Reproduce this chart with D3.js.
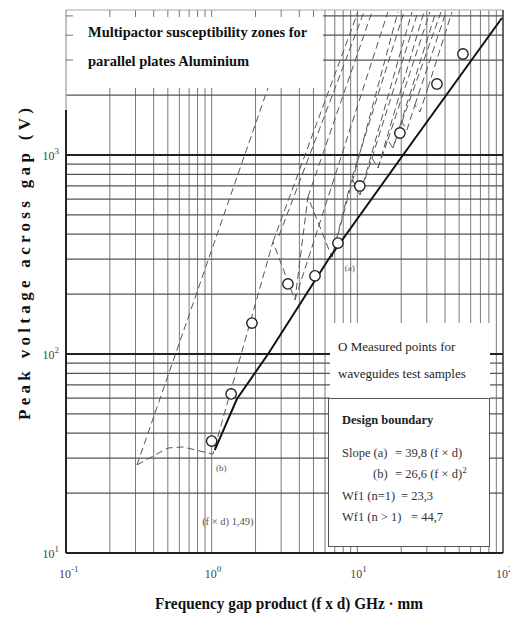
<!DOCTYPE html>
<html>
<head>
<meta charset="utf-8">
<script src="https://cdn.jsdelivr.net/npm/d3@7"></script>
<style>
body { margin: 0; background: #fff; }
</style>
</head>
<body>
<script>
// measured points, f x d (GHz mm) and peak voltage (V)
let measured_fd = [1.0, 1.36, 1.89, 3.34, 5.12, 7.36, 10.4, 19.6, 35.2, 53.1]
let measured_v = [36.5, 63, 143, 225, 247, 361, 699, 1290, 2275, 3217]

// design boundary, solid line
let boundary_fd = [1.05, 1.49, 2.44, 6.49, 20.6, 98.3]
let boundary_v = [32.9, 59.4, 100, 307, 1000, 4880]

// lower zig-zag edge of the susceptibility zones
let zigzag_fd = [0.307, 0.501, 0.635, 1.02, 2.634, 3.73, 4.58, 6.69, 9.18, 10.42,
    12.6, 13.85, 16.2, 17.55, 20.24, 21.9, 24.85, 26.9, 30.5]
let zigzag_v = [27.7, 33.7, 34.1, 31.4, 366, 187, 615, 307, 766, 630,
    966, 860, 1190, 1084, 1465, 1335, 1784, 1644, 2171]

// zone edges running up the chart, start and end of each
let edge_fd0 = [0.307, 2.634, 2.896, 4.58, 3.73, 6.69, 9.18, 10.42, 12.6, 13.85, 16.2, 17.55, 20.24, 24.85, 30.5]
let edge_v0 = [27.7, 366, 392, 615, 187, 307, 766, 630, 966, 860, 1190, 1084, 1465, 1784, 2171]
let edge_fd1 = [2.435, 10.09, 11.1, 12.6, 16.2, 19.0, 20.9, 23.7, 26.05, 28.65, 31.5, 34.6, 37.5, 40.6, 44.6]
let edge_v1 = [2171, 5232, 5232, 5232, 5232, 5232, 5232, 5232, 5232, 5232, 5232, 5232, 5232, 5232, 5232]

let x_ticks = [0.1, 1, 10, 100]
let x_exp = ["-1", "0", "1", "2"]
let y_ticks = [10, 100, 1000]
let y_exp = ["1", "2", "3"]

let pLeft = 66, pRight = 503, pTop = 10, pBottom = 553
let serif = "'Liberation Serif', 'DejaVu Serif', serif"

let x = d3.scaleLog().domain([0.1, 100]).range([pLeft, pRight])
let y = d3.scaleLog().domain([10, 5354]).range([pBottom, pTop])

let svg = d3.select("body").append("svg")
    .attr("width", 510).attr("height", 617)
    .style("font-family", serif)

// grid
svg.append("g").selectAll("line")
    .data(x.ticks().filter(d => d > 0.1 && d < 100))
    .enter().append("line")
    .attr("x1", d => x(d)).attr("x2", d => x(d))
    .attr("y1", pTop).attr("y2", pBottom)
    .attr("stroke", "#7a7a7a").attr("stroke-width", 1)

svg.append("g").selectAll("line")
    .data(y.ticks().filter(d => d > 10))
    .enter().append("line")
    .attr("x1", pLeft).attr("x2", pRight)
    .attr("y1", d => y(d)).attr("y2", d => y(d))
    .attr("stroke", d => y_ticks.includes(d) ? "#222" : "#555")
    .attr("stroke-width", d => y_ticks.includes(d) ? 1.8 : 1.3)

// title box hides the grid, small ticks stay on the edges
svg.append("rect").attr("x", pLeft + 1).attr("y", pTop + 1)
    .attr("width", 322 - pLeft).attr("height", 77).attr("fill", "#fff")
svg.append("g").selectAll("line")
    .data(x.ticks().filter(d => d > 0.1 && x(d) < 322))
    .enter().append("line")
    .attr("x1", d => x(d)).attr("x2", d => x(d))
    .attr("y1", pTop).attr("y2", pTop + 7)
    .attr("stroke", "#777")
svg.append("g").selectAll("line")
    .data(y.ticks().filter(d => y(d) < 86))
    .enter().append("line")
    .attr("x1", pLeft).attr("x2", pLeft + 7)
    .attr("y1", d => y(d)).attr("y2", d => y(d))
    .attr("stroke", "#777")

svg.append("text").attr("x", 88).attr("y", 37)
    .attr("font-size", 14.5).attr("font-weight", "bold").attr("fill", "#111")
    .text("Multipactor susceptibility zones for")
svg.append("text").attr("x", 88).attr("y", 66)
    .attr("font-size", 14.5).attr("font-weight", "bold").attr("fill", "#111")
    .text("parallel plates Aluminium")

// frame
svg.append("line").attr("x1", pLeft).attr("x2", pRight).attr("y1", pTop).attr("y2", pTop)
    .attr("stroke", "#aaa").attr("stroke-width", 1.2)
svg.append("line").attr("x1", pRight).attr("x2", pRight).attr("y1", pTop).attr("y2", pBottom)
    .attr("stroke", "#333").attr("stroke-width", 1.5)
svg.append("line").attr("x1", pLeft).attr("x2", pLeft).attr("y1", pTop).attr("y2", 110)
    .attr("stroke", "#999").attr("stroke-width", 1.2)
svg.append("line").attr("x1", pLeft).attr("x2", pLeft).attr("y1", 110).attr("y2", pBottom)
    .attr("stroke", "#222").attr("stroke-width", 2)
svg.append("line").attr("x1", pLeft).attr("x2", pRight).attr("y1", pBottom).attr("y2", pBottom)
    .attr("stroke", "#222").attr("stroke-width", 2)

// zones, dashed
let line = d3.line().x(d => x(d[0])).y(d => y(d[1]))
svg.append("path")
    .attr("d", line(zigzag_fd.map((d, i) => [d, zigzag_v[i]])))
    .attr("fill", "none").attr("stroke", "#555").attr("stroke-width", 1)
    .attr("stroke-dasharray", "7,4")
svg.append("g").selectAll("path")
    .data(edge_fd0.map((d, i) => [[d, edge_v0[i]], [edge_fd1[i], edge_v1[i]]]))
    .enter().append("path")
    .attr("d", d => line(d))
    .attr("fill", "none").attr("stroke", "#555").attr("stroke-width", 1)
    .attr("stroke-dasharray", "7,4")

// design boundary
svg.append("path")
    .attr("d", line(boundary_fd.map((d, i) => [d, boundary_v[i]])))
    .attr("fill", "none").attr("stroke", "#111").attr("stroke-width", 2)

// measured points
svg.append("g").selectAll("circle")
    .data(measured_fd.map((d, i) => [d, measured_v[i]]))
    .enter().append("circle")
    .attr("cx", d => x(d[0])).attr("cy", d => y(d[1])).attr("r", 5.2)
    .attr("fill", "#fff").attr("stroke", "#222").attr("stroke-width", 1.4)

// small labels on the plot
svg.append("text").attr("x", x(8.2)).attr("y", y(261))
    .attr("font-size", 9).attr("fill", "#555").text("(a)")
svg.append("text").attr("x", x(1.07)).attr("y", y(25.8))
    .attr("font-size", 9).attr("fill", "#555").text("(b)")
svg.append("text").attr("x", x(0.86)).attr("y", y(13.8))
    .attr("font-size", 10.5).attr("fill", "#555").text("(f × d) 1,49)")

// legend
svg.append("rect").attr("x", 330).attr("y", 323).attr("width", 160).attr("height", 75)
    .attr("fill", "#fff")
svg.append("text").attr("x", 338).attr("y", 351).attr("font-size", 13).attr("fill", "#222")
    .text("O Measured points for")
svg.append("text").attr("x", 338).attr("y", 378).attr("font-size", 13).attr("fill", "#222")
    .text("waveguides test samples")

svg.append("rect").attr("x", 328.5).attr("y", 398.5).attr("width", 161).attr("height", 148)
    .attr("fill", "#fff").attr("stroke", "#555").attr("stroke-width", 1)
let box = svg.append("g").attr("font-size", 12.5).attr("fill", "#333")
box.append("text").attr("x", 342).attr("y", 424).attr("font-weight", "bold").attr("fill", "#222")
    .text("Design boundary")
box.append("text").attr("x", 342).attr("y", 457).text("Slope (a)")
box.append("text").attr("x", 395).attr("y", 457).text("= 39,8 (f × d)")
box.append("text").attr("x", 373).attr("y", 478).text("(b)")
let t = box.append("text").attr("x", 395).attr("y", 478).text("= 26,6 (f × d)")
t.append("tspan").attr("dy", -5).attr("font-size", 9).text("2")
box.append("text").attr("x", 342).attr("y", 500).text("Wf1 (n=1)")
box.append("text").attr("x", 401).attr("y", 500).text("= 23,3")
box.append("text").attr("x", 342).attr("y", 521).text("Wf1 (n > 1)")
box.append("text").attr("x", 411).attr("y", 521).text("= 44,7")

// tick labels
x_ticks.forEach((d, i) => {
    let tx = svg.append("text").attr("x", x(d) - 7).attr("y", 578)
        .attr("font-size", 12).attr("fill", "#444").text("10")
    tx.append("tspan").attr("dy", -6).attr("font-size", 9).text(x_exp[i])
})
y_ticks.forEach((d, i) => {
    let ty = svg.append("text").attr("x", 59).attr("y", y(d) + 5)
        .attr("text-anchor", "end").attr("font-size", 12).attr("fill", "#444").text("10")
    ty.append("tspan").attr("dy", -6).attr("font-size", 9).text(y_exp[i])
})

// axis titles
svg.append("text").attr("x", 289).attr("y", 609)
    .attr("text-anchor", "middle").attr("font-size", 17).attr("font-weight", "bold")
    .attr("fill", "#111").attr("textLength", 268).attr("lengthAdjust", "spacingAndGlyphs")
    .text("Frequency gap product (f x d) GHz · mm")
svg.append("text").attr("transform", "translate(30,264) rotate(-90)")
    .attr("text-anchor", "middle").attr("font-size", 17).attr("font-weight", "bold")
    .attr("fill", "#111").attr("textLength", 312).attr("lengthAdjust", "spacing")
    .text("Peak voltage across gap (V)")
</script>
</body>
</html>
